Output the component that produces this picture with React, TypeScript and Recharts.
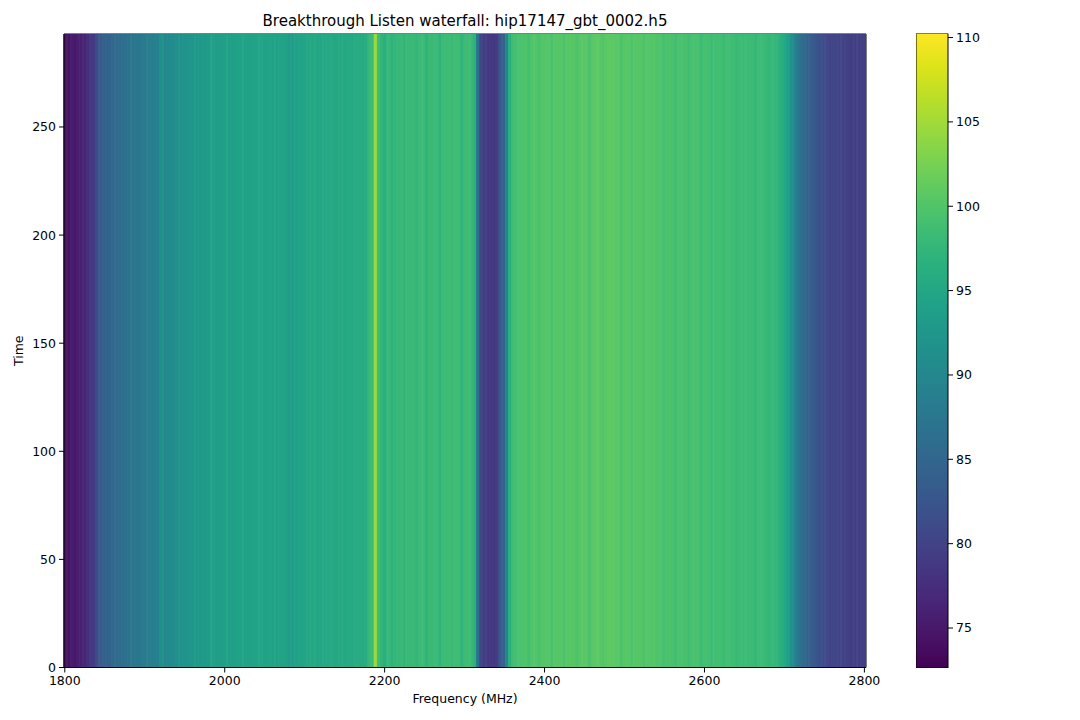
import React from 'react';
import { ComposedChart, Bar, Cell, XAxis, YAxis, ReferenceArea } from 'recharts';

const title = 'Breakthrough Listen waterfall: hip17147_gbt_0002.h5';
const xTicks = [1800, 2000, 2200, 2400, 2600, 2800];
const yTicks = [0, 50, 100, 150, 200, 250];
const cbTicks = [75, 80, 85, 90, 95, 100, 105, 110];
const viridis = ['#440154','#481567','#482677','#453781','#404788','#39568c','#33638d','#2d708e','#287d8e','#238a8d','#1f968b','#20a387','#29af7f','#3cbb75','#55c667','#73d055','#95d840','#b8de29','#dce319','#fde725'];
const powerMin = 72.63;
const powerMax = 110.24;
const timeMax = 293;
const binStart = 1801;
const binWidth = 4;

// mean power of each 4 MHz channel
const power = [
  74.5,74.3,75.5,75,75.8,76,76.3,77.6,79,79,81.5,83,84,84.8,84.4,85.2,85.6,85.9,86.2,86.5,86.9,87.2,87.4,87.7,88,
  88.3,88.5,88.7,88.9,89.1,91.5,90.2,90.5,90.8,91,91.3,91.6,92,92.1,92.3,92.6,92.8,93,93.2,93.1,93.4,94.6,93.6,93.8,93.7,
  94,94.2,93.8,94.1,94.3,94.4,94.5,94.2,94.3,94.5,94.6,94.7,94.4,94.5,94.6,94.4,94.3,94.5,94.4,94.3,93.5,93.4,94.2,94.5,94.6,
  94.8,94.9,95,95.8,94.9,95,95.1,95.2,95.9,95.2,95.3,95.3,95.4,95.5,95.5,95.6,95.7,95.7,95.8,96,97.8,98.2,104.6,98.6,97.2,
  96.5,98,96.8,97.5,97.8,98,97.4,98,98.1,98.2,97.6,98.2,98.3,97,98.3,98.2,98.4,97.1,98.4,98.5,98.6,98.1,98.6,98.5,97.2,
  98.4,98.5,98,96.8,87,80.5,79.3,79,78.8,78.8,79.2,82.5,84,90,96.5,98.8,99,99.4,99.6,99.8,99,100,100.1,99.4,100.2,
  100.2,100.3,99.4,100.4,100.4,100.4,99.6,100.4,100.5,100.5,99.8,100.5,100.5,100.6,99.7,100.6,100.7,100.7,100,100.7,100.9,100.8,100.4,100.5,99.8,
  100.5,100.5,99.8,100.4,100.4,100.4,99.7,100.3,100.2,100.3,99.8,99.9,99,99.5,99.6,99.4,98.8,99.5,99.4,99.3,98.7,99.3,99.3,99.2,98.5,
  99.2,99,98.4,99,98.9,98.9,98.3,98.8,98.7,98.5,98.2,98.6,98.2,98.5,98.4,98.4,97.7,98.4,98.3,98.2,97.6,98,97.6,97,96.4,
  95.5,94,91.5,89.5,88,86.5,85.5,84.5,83.8,83,82.4,81.8,81.3,81,80.2,80.6,80.4,80.2,80,79.9,79.7,79.4,79.7,79.6,79.5,79.6,
];

const font = '"DejaVu Sans", sans-serif';
const tickStyle = { fontSize: 12.5, fill: '#000', fontFamily: font };
const labelStyle = { fontSize: 12.5, fill: '#000', fontFamily: font };

function hexToRgb(h: string) {
  return [1, 3, 5].map((i) => parseInt(h.slice(i, i + 2), 16));
}
function colorOf(v: number) {
  const t = Math.max(0, Math.min(1, (v - powerMin) / (powerMax - powerMin))) * (viridis.length - 1);
  const i = Math.min(viridis.length - 2, Math.floor(t));
  const a = hexToRgb(viridis[i]);
  const b = hexToRgb(viridis[i + 1]);
  const f = t - i;
  return `rgb(${a.map((c, k) => Math.round(c + (b[k] - c) * f)).join(',')})`;
}

const rows = power.map((p, i) => ({ freq: binStart + i * binWidth, span: timeMax, power: p }));
const cbRows = [{ name: 'power', range: [powerMin, powerMax] }];

export default function App() {
  return (
    <div style={{ position: 'absolute', left: 0, top: 0, width: 1080, height: 720, background: '#fff', overflow: 'hidden' }}>
      <div style={{ position: 'absolute', left: 64, width: 802, top: 12, textAlign: 'center', fontFamily: font, fontSize: 15, lineHeight: '19px', color: '#000' }}>
        {title}
      </div>
      <div style={{ position: 'absolute', left: 0, top: 0 }}>
        <ComposedChart width={1080} height={720} data={rows} margin={{ left: 14, right: 214, top: 34, bottom: 12.5 }} barGap={0}>
          <XAxis
            dataKey="freq"
            type="number"
            domain={[1799, 2802]}
            allowDataOverflow
            ticks={xTicks}
            interval={0}
            height={40}
            tickSize={5}
            tickMargin={4}
            tick={tickStyle}
            stroke="#000"
            tickLine={{ stroke: '#000' }}
            label={{ value: 'Frequency (MHz)', position: 'insideBottom', offset: 4.5, style: labelStyle }}
          />
          <YAxis
            type="number"
            domain={[0, timeMax]}
            allowDataOverflow
            ticks={yTicks}
            interval={0}
            width={50}
            tickSize={5}
            tickMargin={3}
            tick={tickStyle}
            stroke="#000"
            tickLine={{ stroke: '#000' }}
            label={{ value: 'Time', angle: -90, position: 'insideLeft', offset: 5, style: { ...labelStyle, textAnchor: 'middle' } }}
          />
          <Bar dataKey="span" barSize={4} isAnimationActive={false}>
            {rows.map((r) => (
              <Cell key={r.freq} fill={colorOf(r.power)} stroke={colorOf(r.power)} strokeWidth={1} />
            ))}
          </Bar>
          <ReferenceArea x1={1799} x2={2802} y1={0} y2={timeMax} fill="none" stroke="#000" strokeWidth={1} ifOverflow="visible" />
        </ComposedChart>
      </div>
      <div style={{ position: 'absolute', left: 916, top: 23 }}>
        <ComposedChart width={76} height={655} data={cbRows} margin={{ left: 0, right: 0, top: 10.5, bottom: 10 }} barCategoryGap={0}>
          <defs>
            <linearGradient id="viridisBar" x1="0" y1="1" x2="0" y2="0">
              {viridis.map((c, i) => (
                <stop key={c} offset={i / (viridis.length - 1)} stopColor={c} />
              ))}
            </linearGradient>
          </defs>
          <XAxis dataKey="name" type="category" hide />
          <YAxis
            orientation="right"
            type="number"
            domain={[powerMin, powerMax]}
            allowDataOverflow
            ticks={cbTicks}
            interval={0}
            width={44}
            tickSize={5}
            tickMargin={3}
            tick={tickStyle}
            axisLine={false}
            tickLine={{ stroke: '#000' }}
          />
          <Bar dataKey="range" fill="url(#viridisBar)" stroke="#000" strokeWidth={1} isAnimationActive={false} />
        </ComposedChart>
      </div>
    </div>
  );
}
